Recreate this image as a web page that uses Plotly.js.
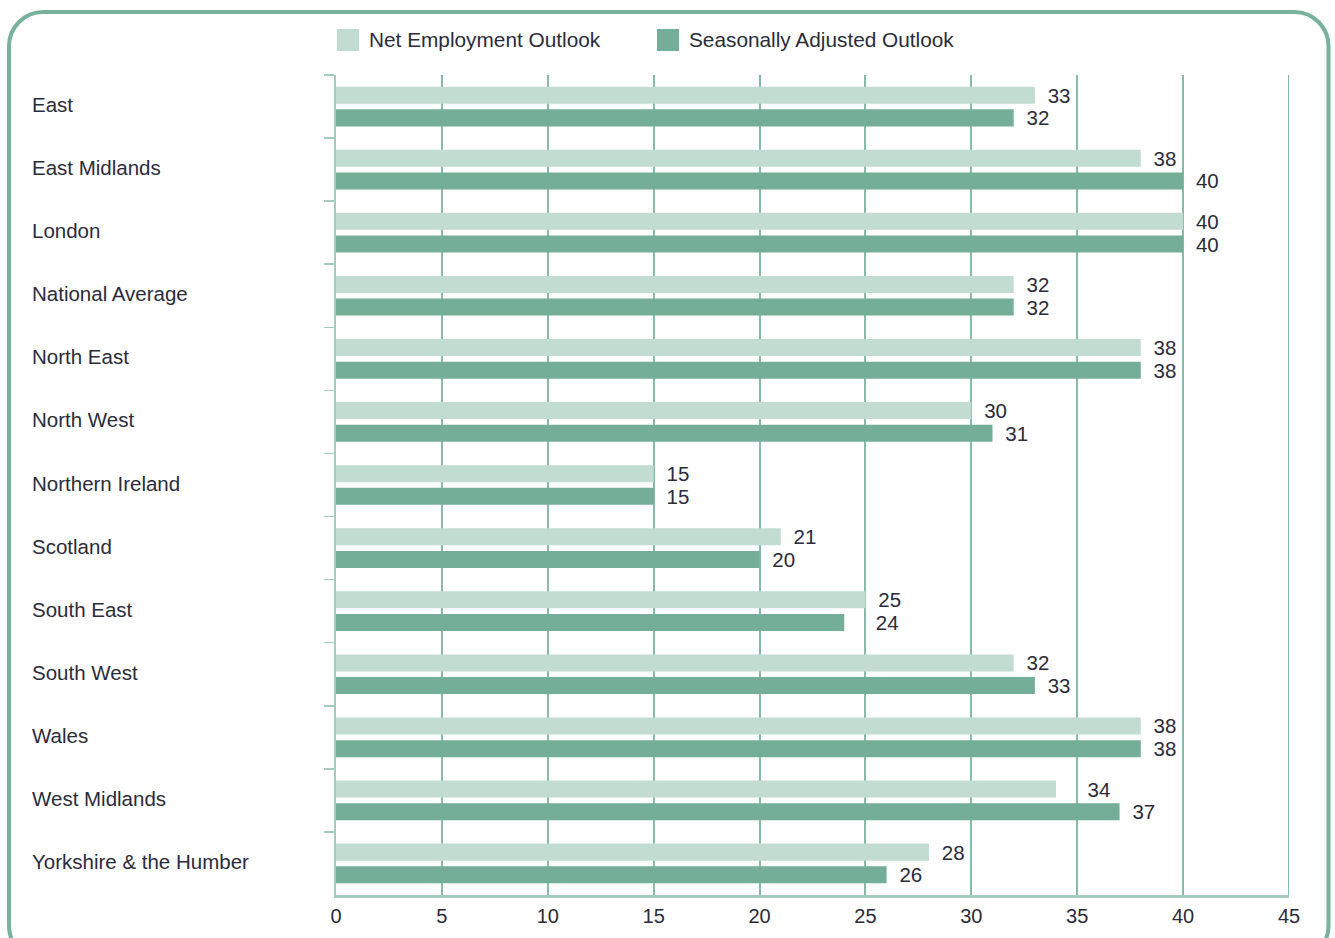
<!DOCTYPE html>
<html>
<head>
<meta charset="utf-8">
<script src="https://cdn.plot.ly/plotly-3.0.1.min.js"></script>
<style>
  html, body { margin: 0; padding: 0; background: #ffffff; }
  #chart { width: 1335px; height: 938px; }
</style>
</head>
<body>
<div id="chart"></div>
<script>
// ---- data ----
const regions = ["East", "East Midlands", "London", "National Average", "North East", "North West",
  "Northern Ireland", "Scotland", "South East", "South West", "Wales", "West Midlands",
  "Yorkshire & the Humber"];
const netOutlook = [33, 38, 40, 32, 38, 30, 15, 21, 25, 32, 38, 34, 28];
const seasonalOutlook = [32, 40, 40, 32, 38, 31, 15, 20, 24, 33, 38, 37, 26];
const seriesNames = ["Net Employment Outlook", "Seasonally Adjusted Outlook"];
const xTicks = [0, 5, 10, 15, 20, 25, 30, 35, 40, 45];

// ---- styles ----
const W = 1335, H = 938;
const M = { l: 336, r: 46, t: 75, b: 43 };
const PW = W - M.l - M.r, PH = H - M.t - M.b;
const px = x => (x - M.l) / PW;
const py = y => (H - M.b - y) / PH;
const lightGreen = "#c3dcd1", darkGreen = "#74ae98";
const gridColor = "#86bba7";
const textColor = "#2b2b3a";
const fontFamily = "'Liberation Sans', Arial, sans-serif";

// value labels: a small gap after the bar; labels that would sit on a gridline are pushed past it
function labelTemplates(values) {
  return values.map(v => {
    const toGrid = Math.ceil(v / 5) * 5 - v;
    const pad = (toGrid > 0 && toGrid <= 1) ? "\u00a0\u00a0\u00a0\u00a0\u00a0" : "\u00a0\u2009";
    return pad + "%{x}";
  });
}

const traces = [
  { type: "bar", orientation: "h", name: seriesNames[0], y: regions, x: netOutlook,
    marker: { color: lightGreen }, texttemplate: labelTemplates(netOutlook), textposition: "outside", constraintext: "none",
    textfont: { size: 20.5, color: textColor, family: fontFamily }, cliponaxis: false, hoverinfo: "x+y" },
  { type: "bar", orientation: "h", name: seriesNames[1], y: regions, x: seasonalOutlook,
    marker: { color: darkGreen }, texttemplate: labelTemplates(seasonalOutlook), textposition: "outside", constraintext: "none",
    textfont: { size: 20.5, color: textColor, family: fontFamily }, cliponaxis: false, hoverinfo: "x+y" }
];

// rounded border path in paper coordinates
const bx0 = 9, bx1 = 1328.5, by0 = 12, by1 = 960, r = 34;
const k = 0.45; // bezier handle factor
function P(x, y) { return px(x).toFixed(5) + "," + py(y).toFixed(5); }
const borderPath =
  "M " + P(bx0 + r, by0) +
  " L " + P(bx1 - r, by0) +
  " C " + P(bx1 - r * k, by0) + " " + P(bx1, by0 + r * k) + " " + P(bx1, by0 + r) +
  " L " + P(bx1, by1 - r) +
  " C " + P(bx1, by1 - r * k) + " " + P(bx1 - r * k, by1) + " " + P(bx1 - r, by1) +
  " L " + P(bx0 + r, by1) +
  " C " + P(bx0 + r * k, by1) + " " + P(bx0, by1 - r * k) + " " + P(bx0, by1 - r) +
  " L " + P(bx0, by0 + r) +
  " C " + P(bx0, by0 + r * k) + " " + P(bx0 + r * k, by0) + " " + P(bx0 + r, by0) + " Z";

const lastTick = xTicks[xTicks.length - 1];
const shapes = [
  { type: "path", xref: "paper", yref: "paper", path: borderPath,
    line: { color: "#78b29c", width: 4 }, fillcolor: "rgba(0,0,0,0)", layer: "below" },
  // gridline at the right end of the axis (Plotly drops the edge gridline)
  { type: "line", xref: "x", yref: "paper", x0: lastTick, x1: lastTick, y0: 0, y1: 1,
    line: { color: gridColor, width: 2 }, layer: "below" },
  // custom legend swatches
  { type: "rect", xref: "paper", yref: "paper", x0: px(337), x1: px(359), y0: py(51), y1: py(29),
    fillcolor: lightGreen, line: { width: 0 } },
  { type: "rect", xref: "paper", yref: "paper", x0: px(657), x1: px(679), y0: py(51), y1: py(29),
    fillcolor: darkGreen, line: { width: 0 } }
];

const annotations = [
  { xref: "paper", yref: "paper", x: px(367), y: py(40), xanchor: "left", yanchor: "middle",
    text: seriesNames[0], showarrow: false, font: { size: 20.8, color: textColor, family: fontFamily } },
  { xref: "paper", yref: "paper", x: px(687), y: py(40), xanchor: "left", yanchor: "middle",
    text: seriesNames[1], showarrow: false, font: { size: 20.8, color: textColor, family: fontFamily } }
].concat(regions.map(name => ({
  xref: "paper", yref: "y", x: px(30), y: name, xanchor: "left", yanchor: "middle", yshift: 2,
  text: name, showarrow: false, font: { size: 20.5, color: textColor, family: fontFamily }
})));

const layout = {
  width: W, height: H,
  margin: M,
  paper_bgcolor: "#ffffff", plot_bgcolor: "#ffffff",
  showlegend: false,
  barmode: "group", bargap: 0.281, bargroupgap: 0.25,
  font: { family: fontFamily, color: textColor, size: 20 },
  xaxis: {
    range: [0, 45], tickvals: xTicks, ticktext: xTicks.map(String),
    showgrid: true, gridcolor: gridColor, gridwidth: 2,
    showline: true, linecolor: "#a3ccbd", linewidth: 2.5,
    zeroline: false, ticks: "", fixedrange: true, ticklabelstandoff: 1,
    tickfont: { size: 20, color: textColor, family: fontFamily }
  },
  yaxis: {
    type: "category", autorange: "reversed",
    showticklabels: false, ticks: "outside", tickson: "boundaries", ticklen: 10,
    tickcolor: "#a3ccbd", tickwidth: 1.5,
    showline: true, linecolor: "#a3ccbd", linewidth: 2,
    showgrid: false, zeroline: false, fixedrange: true
  },
  shapes: shapes,
  annotations: annotations
};

Plotly.newPlot("chart", traces, layout, { displayModeBar: false, staticPlot: true });
</script>
</body>
</html>
